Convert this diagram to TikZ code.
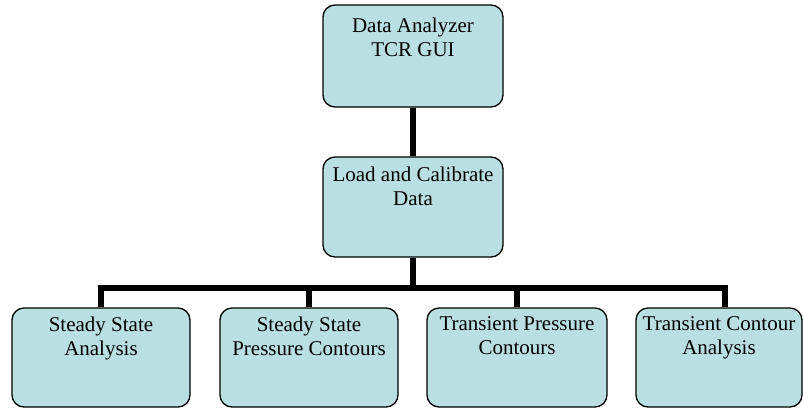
\documentclass[tikz,border=0pt]{standalone}
\usepackage{fontspec}
\setmainfont{Liberation Serif}
\usetikzlibrary{calc}
\definecolor{boxfill}{RGB}{185,223,226}
\begin{document}
\begin{tikzpicture}[x=1pt,y=-1pt,
  box/.style={draw=black, line width=1.3pt, fill=boxfill, rounded corners=12pt, inner sep=0pt},
  txt/.style={align=center, inner sep=0pt, anchor=north, font=\fontsize{21}{24}\selectfont},
  conn/.style={draw=black, line width=5.5pt, line join=miter}]
\useasboundingbox (0,0) rectangle (804,408);
% boxes
\node[box, minimum width=180pt, minimum height=102pt] (top) at (413,56) {};
\node[box, minimum width=180pt, minimum height=100pt] (mid) at (413,207) {};
\node[box, minimum width=178pt, minimum height=99pt] (s1) at (101,357.5) {};
\node[box, minimum width=178pt, minimum height=99pt] (s2) at (309,357.5) {};
\node[box, minimum width=180pt, minimum height=99pt] (s3) at (517,357.5) {};
\node[box, minimum width=166pt, minimum height=99pt] (s4) at (719,357.5) {};
% texts
\node[txt] (ttop) at ($(top.north)+(0,13)$) {Data Analyzer\\TCR GUI};
\node[txt] (tmid) at ($(mid.north)+(0,10)$) {Load and Calibrate\\Data};
\node[txt] (t1) at ($(s1.north)+(0,9)$) {Steady State\\Analysis};
\node[txt] (t2) at ($(s2.north)+(0,9)$) {Steady State\\Pressure Contours};
\node[txt] (t3) at ($(s3.north)+(0,9)$) {Transient Pressure\\Contours};
\node[txt] (t4) at ($(s4.north)+(0,9)$) {Transient Contour\\Analysis};
% connectors
\coordinate (bm) at (413,288);
\coordinate (bl) at (101,288);
\coordinate (br) at (725,288);
\coordinate (b2) at (309,288);
\coordinate (b3) at (517,288);
\draw[conn] (top.south) -- (mid.north);
\draw[conn] (mid.south) -- (bm);
\draw[conn] (s1.north) -- (bl) -- (br) -- (br |- s4.north);
\draw[conn] (b2) -- (s2.north);
\draw[conn] (b3) -- (s3.north);
\end{tikzpicture}
\end{document}
